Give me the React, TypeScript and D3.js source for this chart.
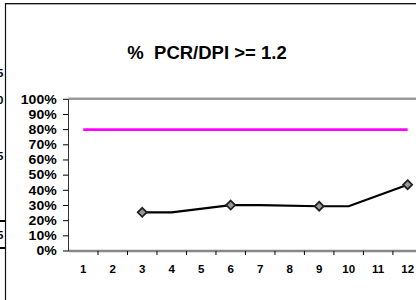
import React from "react";
import * as d3 from "d3";

const categories = [1, 2, 3, 4, 5, 6, 7, 8, 9, 10, 11, 12];
const yTicks = [0, 0.1, 0.2, 0.3, 0.4, 0.5, 0.6, 0.7, 0.8, 0.9, 1.0];
const targetValues = [0.8, 0.8, 0.8, 0.8, 0.8, 0.8, 0.8, 0.8, 0.8, 0.8, 0.8, 0.8];
const actualMonths = [3, 4, 6, 7, 9, 10, 12];
const actualValues = [0.255, 0.255, 0.303, 0.303, 0.295, 0.295, 0.437];
const markerMonths = [3, 6, 9, 12];
const title = "%  PCR/DPI >= 1.2";
const sideFragments = [
  { y: 77, t: "5" },
  { y: 104, t: "0" },
  { y: 160, t: "5" },
  { y: 239, t: "5" },
];

const W = 416;
const H = 300;
const FONT = "'Liberation Sans', Arial, sans-serif";

export default function App() {
  const x = d3.scaleBand<number>().domain(categories).range([68.5, 422.4]).padding(0);
  const cx = (d: number) => (x(d) as number) + x.bandwidth() / 2;
  const y = d3.scaleLinear().domain([0, 1]).range([251, 99.3]);

  const line = d3
    .line<[number, number]>()
    .x((d) => cx(d[0]))
    .y((d) => y(d[1]));

  const targetPts: [number, number][] = categories.map((c, i) => [c, targetValues[i]]);
  const actualPts: [number, number][] = actualMonths.map((m, i) => [m, actualValues[i]]);
  const markers = markerMonths.map((m) => [m, actualValues[actualMonths.indexOf(m)]] as [number, number]);

  const x0 = 68.5;
  const yTop = y(1);
  const yBot = y(0);

  return (
    <svg
      width={W}
      height={H}
      style={{ position: "absolute", left: 0, top: 0, background: "#fff" }}
      fontFamily={FONT}
    >
      <rect x={0} y={0} width={W} height={H} fill="#fff" />
      {/* chart frame */}
      <line x1={5} x2={W} y1={4.5} y2={4.5} stroke="#aaa" strokeWidth={1} />
      <line x1={5} x2={W} y1={3.5} y2={3.5} stroke="#111" strokeWidth={1.2} />
      <line x1={5.5} x2={5.5} y1={3} y2={H} stroke="#111" strokeWidth={1.2} />
      {/* left-side fragments of neighbouring chart */}
      {sideFragments.map((f, i) => (
        <text key={i} x={3.5} y={f.y} textAnchor="end" fontSize={11.5} fontWeight="bold" fill="#000">
          {f.t}
        </text>
      ))}
      <line x1={0} x2={5} y1={221} y2={221} stroke="#000" strokeWidth={2} />
      <line x1={0} x2={5} y1={248} y2={248} stroke="#000" strokeWidth={2} />

      {/* title */}
      <text
        x={207}
        y={59}
        textAnchor="middle"
        fontSize={18.5}
        fontWeight="bold"
        fill="#000"
        style={{ whiteSpace: "pre" }}
      >
        {title}
      </text>

      {/* plot area borders */}
      <line x1={x0} x2={W} y1={yTop - 0.5} y2={yTop - 0.5} stroke="#999" strokeWidth={2.5} />
      <line x1={x0} x2={W} y1={yBot} y2={yBot} stroke="#888" strokeWidth={2.5} />
      <line x1={x0} x2={x0} y1={yTop} y2={yBot} stroke="#333" strokeWidth={1} />

      {/* y ticks and labels */}
      {yTicks.map((t) => (
        <g key={t}>
          <line x1={x0 - 5.5} x2={x0} y1={y(t)} y2={y(t)} stroke="#000" strokeWidth={1} />
          <text
            transform={`translate(56.7,${y(t)}) scale(1.17,1)`}
            dy="0.36em"
            textAnchor="end"
            fontSize={12}
            fontWeight="bold"
            fill="#000"
          >
            {d3.format(".0%")(t)}
          </text>
        </g>
      ))}

      {/* x ticks and labels */}
      {categories.map((c) => (
        <g key={c}>
          <line
            x1={(x(c) as number) + x.bandwidth()}
            x2={(x(c) as number) + x.bandwidth()}
            y1={yBot}
            y2={yBot + 4}
            stroke="#000"
            strokeWidth={1}
          />
          <text x={cx(c)} y={273.3} textAnchor="middle" fontSize={11.5} fontWeight="bold" fill="#000">
            {c}
          </text>
        </g>
      ))}

      {/* target line */}
      <path d={line(targetPts) || ""} fill="none" stroke="#ff00ff" strokeWidth={2.8} />

      {/* actual line */}
      <path d={line(actualPts) || ""} fill="none" stroke="#000" strokeWidth={2.2} />
      {markers.map((d, i) => {
        const px = cx(d[0]);
        const py = y(d[1]);
        const r = 4.5;
        return (
          <path
            key={i}
            d={`M${px},${py - r}L${px + r},${py}L${px},${py + r}L${px - r},${py}Z`}
            fill="#999"
            stroke="#222"
            strokeWidth={1.8}
          />
        );
      })}
    </svg>
  );
}
